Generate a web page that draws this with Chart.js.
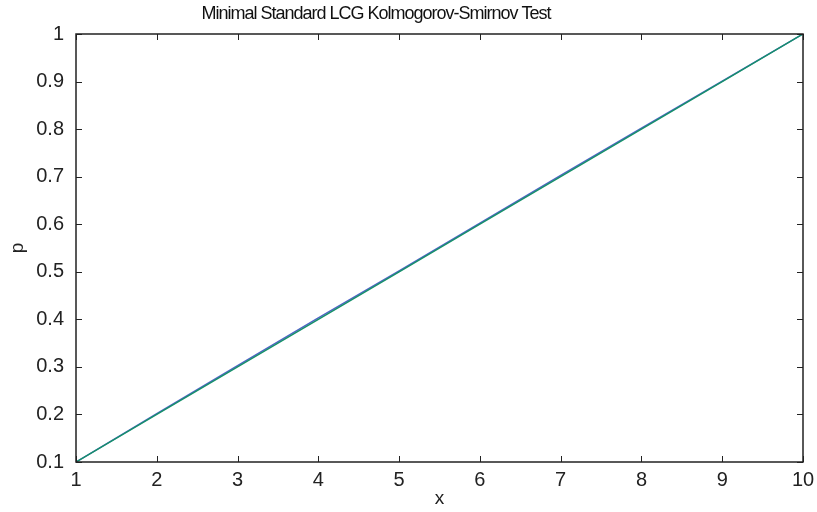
<!DOCTYPE html>
<html>
<head>
<meta charset="utf-8">
<script src="https://cdn.jsdelivr.net/npm/chart.js@4/dist/chart.umd.min.js"></script>
<style>
  html, body { margin: 0; padding: 0; background: #fff; }
  #wrap { width: 817px; height: 512px; }
</style>
</head>
<body>
<div id="wrap"><canvas id="ksChart" width="817" height="512"></canvas></div>
<script>
const FONT = "'Liberation Sans', Arial, sans-serif"

const xValues = [1, 2, 3, 4, 5, 6, 7, 8, 9, 10]
// empirical distribution of the generator output
const empiricalP = [0.1, 0.2015, 0.3025, 0.403, 0.502, 0.6025, 0.7025, 0.802, 0.901, 1.0]
// theoretical uniform distribution
const expectedP = [0.1, 0.2, 0.3, 0.4, 0.5, 0.6, 0.7, 0.8, 0.9, 1.0]

const titleText = "Minimal Standard LCG Kolmogorov-Smirnov Test"

function toPoints(xs, ys) {
    return xs.map((x, i) => ({ x: x, y: ys[i] }))
}

// inward tick marks on all four sides, gnuplot style
const innerTicks = {
    id: "innerTicks",
    afterDraw(chart) {
        const ctx = chart.ctx
        const area = chart.chartArea
        const sx = chart.scales.x
        const sy = chart.scales.y
        const len = 6
        ctx.save()
        ctx.strokeStyle = "#222"
        ctx.lineWidth = 1
        ctx.beginPath()
        sx.ticks.forEach(t => {
            const px = Math.round(sx.getPixelForValue(t.value)) + 0.5
            ctx.moveTo(px, area.bottom)
            ctx.lineTo(px, area.bottom - len)
            ctx.moveTo(px, area.top)
            ctx.lineTo(px, area.top + len)
        })
        sy.ticks.forEach(t => {
            const py = Math.round(sy.getPixelForValue(t.value)) + 0.5
            ctx.moveTo(area.left, py)
            ctx.lineTo(area.left + len, py)
            ctx.moveTo(area.right, py)
            ctx.lineTo(area.right - len, py)
        })
        ctx.stroke()
        ctx.lineWidth = 1.5
        ctx.strokeRect(area.left, area.top, area.right - area.left, area.bottom - area.top)
        ctx.restore()
    }
}

const topTitle = {
    id: "topTitle",
    afterDraw(chart) {
        const ctx = chart.ctx
        ctx.save()
        ctx.fillStyle = "#111"
        ctx.font = "18px " + FONT
        ctx.letterSpacing = "-1px"
        ctx.textAlign = "center"
        ctx.textBaseline = "middle"
        ctx.fillText(titleText, 376, 14)
        ctx.restore()
    }
}

const ctx = document.getElementById("ksChart").getContext("2d")

new Chart(ctx, {
    type: "line",
    data: {
        datasets: [
            {
                label: "expected",
                data: toPoints(xValues, expectedP),
                borderColor: "#16906a",
                borderWidth: 1.5,
                pointRadius: 0,
                tension: 0,
                fill: false,
                order: 0
            },
            {
                label: "empirical",
                data: toPoints(xValues, empiricalP),
                borderColor: "#4f63c6",
                borderWidth: 1.5,
                pointRadius: 0,
                tension: 0,
                fill: false,
                order: 1
            }
        ]
    },
    options: {
        responsive: false,
        animation: false,
        layout: {
            padding: { top: 34, right: 14, bottom: 0, left: 0 }
        },
        plugins: {
            legend: { display: false },
            title: { display: false },
            tooltip: { enabled: false }
        },
        scales: {
            x: {
                type: "linear",
                min: 1,
                max: 10,
                grid: { display: false, drawTicks: false },
                border: { display: false },
                ticks: {
                    stepSize: 1,
                    padding: 6,
                    color: "#222",
                    font: { family: FONT, size: 20 },
                    maxRotation: 0
                },
                title: {
                    display: true,
                    text: "x",
                    color: "#222",
                    font: { family: FONT, size: 19 },
                    padding: { top: 0, bottom: 2 }
                },
                afterFit(scale) {
                    scale.height = 50
                    scale.paddingLeft = 0
                    scale.paddingRight = 0
                }
            },
            y: {
                type: "linear",
                min: 0.1,
                max: 1,
                grid: { display: false, drawTicks: false },
                border: { display: false },
                ticks: {
                    stepSize: 0.1,
                    padding: 12,
                    color: "#222",
                    font: { family: FONT, size: 20 },
                    callback: v => Math.round(v * 10) / 10
                },
                title: {
                    display: true,
                    text: "p",
                    color: "#222",
                    font: { family: FONT, size: 19 },
                    padding: { top: 6, bottom: 0 }
                },
                afterFit(scale) {
                    scale.width = 76
                    scale.paddingTop = 0
                    scale.paddingBottom = 0
                }
            }
        }
    },
    plugins: [innerTicks, topTitle]
})
</script>
</body>
</html>
